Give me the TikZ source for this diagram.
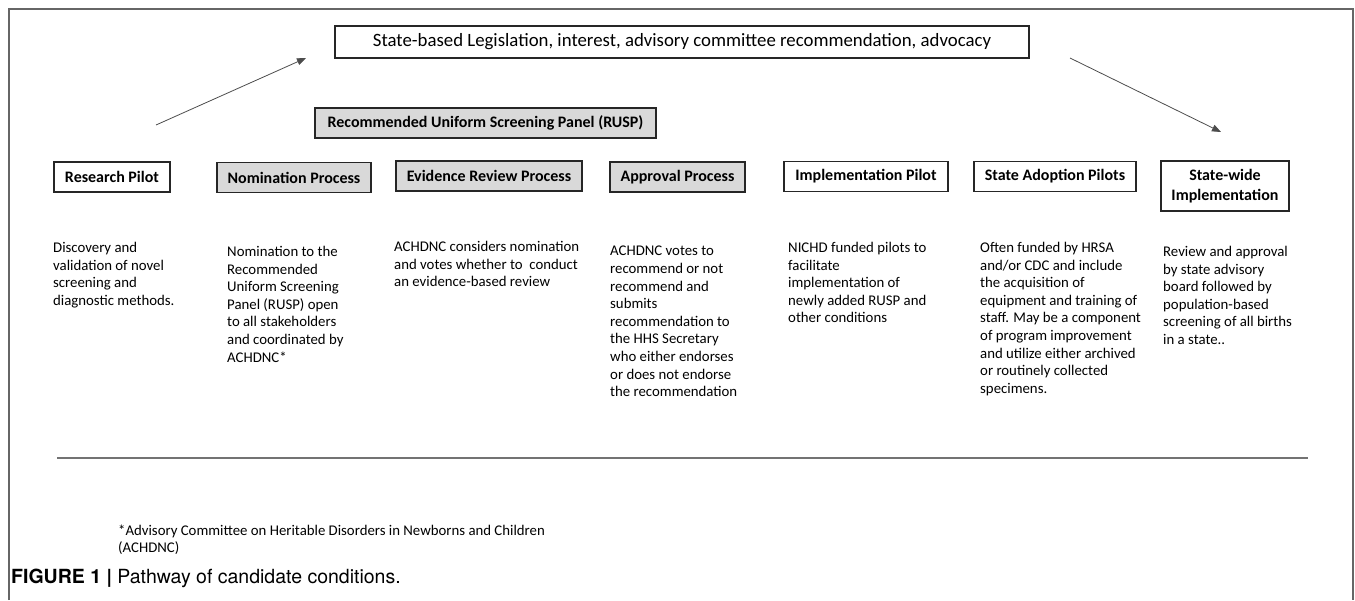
\documentclass[tikz,border=0pt]{standalone}
\usepackage{fontspec}
\setmainfont{Carlito}
\newfontfamily\capfont{TeX Gyre Heros}
\usetikzlibrary{arrows.meta}

\begin{document}
\begin{tikzpicture}[x=1pt,y=-1pt,
  boxbase/.style={draw=black!85, line width=1.3pt, inner sep=0pt, align=center,
    font=\bfseries\fontsize{16}{19}\selectfont, minimum height=30pt},
  whitebox/.style={boxbase, fill=white},
  graybox/.style={boxbase, fill=black!15},
  desc/.style={anchor=north west, inner sep=0pt, align=left,
    font=\fontsize{14.8}{17.6}\selectfont},
  link/.style={draw=black!70, line width=0.8pt,
    -{Triangle[length=9pt,width=7pt]}},
  frame/.style={draw=black!60, line width=2pt}
]
% page and outer frame
\useasboundingbox (0,0) rectangle (1355,600);
\draw[frame] (9,600) -- (9,8.5) -- (1353,8.5) -- (1353,600);

% top banner
\node[boxbase, fill=white, minimum width=694pt, minimum height=32pt,
  font=\fontsize{18.8}{22}\selectfont] (top) at (682,42)
  {State-based Legislation, interest, advisory committee recommendation, advocacy};

% RUSP banner
\node[graybox, minimum width=341pt] (rusp) at (485.5,123)
  {Recommended Uniform Screening Panel (RUSP)};

% step boxes
\node[whitebox, minimum width=116pt] (b1) at (112,177) {Research Pilot};
\node[graybox, minimum width=154pt] (b2) at (294,177.5) {Nomination Process};
\node[graybox, minimum width=186pt] (b3) at (489,176) {Evidence Review Process};
\node[graybox, minimum width=135pt] (b4) at (677.5,177) {Approval Process};
\node[whitebox, minimum width=164pt] (b5) at (866,176.5) {Implementation Pilot};
\node[whitebox, minimum width=162pt] (b6) at (1055,176.5) {State Adoption Pilots};
\node[whitebox, minimum width=128pt, minimum height=50pt] (b7) at (1225,186)
  {State-wide\\[1pt]Implementation};

% descriptions
\node[desc] (t1) at (53,242) {Discovery and\\validation of novel\\screening and\\diagnostic methods.};
\node[desc] (t2) at (227,246) {Nomination to the\\Recommended\\Uniform Screening\\Panel (RUSP) open\\to all stakeholders\\and coordinated by\\ACHDNC*};
\node[desc] (t3) at (394,241) {ACHDNC considers nomination\\and votes whether to\ \ conduct\\an evidence-based review};
\node[desc] (t4) at (610,246) {ACHDNC votes to\\recommend or not\\recommend and\\submits\\recommendation to\\the HHS Secretary\\who either endorses\\or does not endorse\\the recommendation};
\node[desc] (t5) at (788,242) {NICHD funded pilots to\\facilitate\\implementation of\\newly added RUSP and\\other conditions};
\node[desc] (t6) at (980,242) {Often funded by HRSA\\and/or CDC and include\\the acquisition of\\equipment and training of\\staff. May be a component\\of program improvement\\and utilize either archived\\or routinely collected\\specimens.};
\node[desc] (t7) at (1163,246) {Review and approval\\by state advisory\\board followed by\\population-based\\screening of all births\\in a state..};

% arrows into and out of the banner
\coordinate (la) at (156,125);
\coordinate (lb) at (306,58);
\coordinate (ra) at (1070,58);
\coordinate (rb) at (1221,132);
\draw[link] (la) -- (lb);
\draw[link] (ra) -- (rb);

% separator rule
\coordinate (r1) at (57,458);
\coordinate (r2) at (1308,458);
\draw[draw=black!55, line width=2pt] (r1) -- (r2);

% footnote
\node[anchor=north west, inner sep=0pt, align=left,
  font=\fontsize{14.8}{17}\selectfont] (fn) at (118,525)
  {*Advisory Committee on Heritable Disorders in Newborns and Children\\(ACHDNC)};

% caption
\node[anchor=west, inner sep=0pt, font=\capfont\fontsize{19.5}{22}\selectfont] (cap) at (11,578)
  {{\bfseries FIGURE 1 |} Pathway of candidate conditions.};
\end{tikzpicture}
\end{document}
